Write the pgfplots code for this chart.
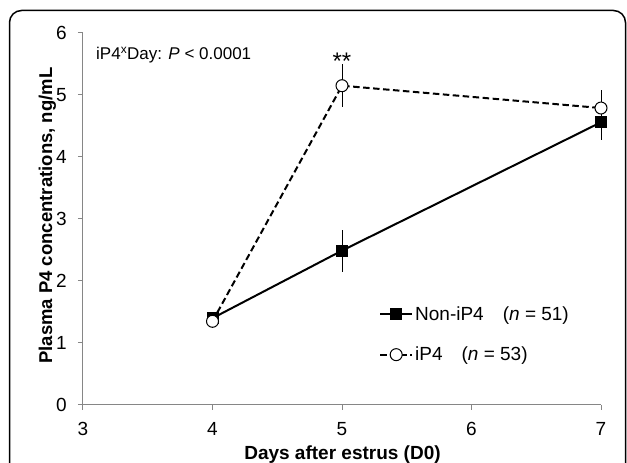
\documentclass[border=0pt]{standalone}
\usepackage{fontspec}
\setmainfont{Liberation Sans}
\usepackage{pgfplots}
\usepackage{pgfplotstable}
\pgfplotsset{compat=1.18}
\definecolor{axgray}{RGB}{134,134,134}
\newcommand{\fs}[1]{\fontsize{#1}{#1}\selectfont}

\pgfplotstableread{
x y e
4 1.40 0.08
5 2.49 0.34
7 4.56 0.29
}\noniP
\pgfplotstableread{
x y e
4 1.35 0.08
5 5.15 0.345
7 4.79 0.29
}\iP

\begin{document}
\begin{tikzpicture}[x=1pt,y=1pt]
\path[use as bounding box] (0,0) rectangle (627,463);
\draw[line width=1.5pt, rounded corners=12pt] (9.5,-30) -- (9.5,452.5) -- (625.5,452.5) -- (625.5,-30);
\begin{axis}[
  at={(83pt,58pt)}, anchor=south west,
  scale only axis, width=518pt, height=372pt,
  xmin=3, xmax=7, ymin=0, ymax=6,
  axis lines=left,
  axis line style={-, draw=axgray, line width=1pt},
  xtick={3,4,5,6,7}, ytick={0,1,2,3,4,5,6},
  tick align=outside, major tick length=5pt,
  tick style={draw=axgray, line width=1pt},
  /pgf/number format/assume math mode=true,
  tick label style={font=\fs{19}},
  yticklabel style={inner sep=0pt, xshift=-11pt},
  xticklabel style={inner sep=0pt, yshift=-12pt},
  clip=false,
  xlabel={Days after estrus (D0)},
  ylabel={Plasma P4 concentrations, ng/mL},
  xlabel style={font=\bfseries\fs{19}, at={(axis description cs:0.501,-0.1478)}, anchor=base},
  ylabel style={font=\bfseries\fs{18.5}, at={(axis description cs:-0.0598,0.509)}, anchor=base},
  legend style={at={(axis description cs:0.5714,0.2700)}, anchor=north west,
    draw=none, fill=none, font=\fs{19}, inner sep=0pt, row sep=21pt},
  legend cell align=left,
  legend image code/.code={
    \draw[mark repeat=2,mark phase=2,#1] plot coordinates {(0pt,0pt) (16pt,0pt) (32pt,0pt)};
  },
]
\addplot[black, line width=2pt, mark=square*, mark size=5.5pt,
  mark options={solid, fill=black, line width=1pt},
  error bars/.cd, y dir=both, y explicit, error mark=none,
  error bar style={line width=1pt, solid, black}]
  table[x=x, y=y, y error=e] {\noniP};
\addlegendentry{Non-iP4\hspace{19pt}(\textit{n} = 51)}
\addplot[black, line width=2pt, dash pattern=on 6.5pt off 3.5pt, mark=*, mark size=6pt,
  mark options={solid, fill=white, draw=black, line width=1pt},
  error bars/.cd, y dir=both, y explicit, error mark=none,
  error bar style={line width=1pt, solid, black}]
  table[x=x, y=y, y error=e] {\iP};
\addlegendentry{iP4\hspace{19pt}(\textit{n} = 53)}
\node[anchor=base, font=\fs{24}, inner sep=0pt] at (axis cs:5,5.41) {**};
\end{axis}
\node[anchor=base west, inner sep=0pt, font=\fs{17}] at (96,403) {iP4\textsuperscript{x}Day: \textit{P} < 0.0001};
\end{tikzpicture}
\end{document}
